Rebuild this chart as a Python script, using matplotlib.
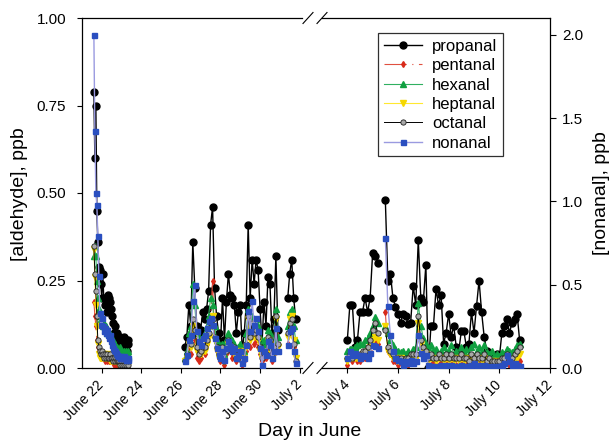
import numpy as np
import matplotlib
matplotlib.use('Agg')
import matplotlib.pyplot as plt
from matplotlib.lines import Line2D

plt.rcParams['font.family'] = ['Liberation Sans', 'DejaVu Sans']

nan = np.nan

# start and sampling step (day in June) of the three measurement periods
seg_start = [21.60, 26.20, 34.00]
seg_step = [0.05, 0.10, 0.10]

### period a : June 21.6 - 23.35 (aldehydes in ppb, nonanal on right axis)
prop_a = [0.79, 0.60, 0.75, 0.45, 0.36, 0.29, 0.28, 0.24, 0.20, 0.27,
          0.20, 0.18, 0.20, 0.16, 0.21, 0.20, 0.19, 0.17, 0.15, 0.13,
          0.10, 0.12, 0.08, 0.10, 0.00, 0.06, 0.09, 0.07, 0.08, 0.06,
          0.09, 0.07, 0.08, 0.05, 0.08, 0.07]
pent_a = [0.19, 0.15, 0.12, 0.08, 0.06, 0.05, 0.04, 0.03, 0.04, 0.03,
          0.03, 0.02, 0.03, 0.02, 0.03, 0.02, 0.02, 0.03, 0.02, 0.02,
          0.01, 0.02, 0.01, 0.02, 0.01, 0.01, 0.02, 0.01, 0.01, 0.00,
          0.01, 0.01, 0.00, 0.01, 0.01, 0.00]
hex_a = [0.32, 0.35, 0.32, 0.25, 0.20, 0.17, 0.15, 0.14, 0.13, 0.12,
         0.13, 0.11, 0.12, 0.10, 0.11, 0.10, 0.09, 0.09, 0.08, 0.08,
         0.07, 0.07, 0.06, 0.06, 0.05, 0.05, 0.06, 0.05, 0.05, 0.04,
         0.05, 0.04, 0.05, 0.04, 0.05, 0.04]
hept_a = [0.34, 0.26, 0.18, 0.12, 0.07, 0.04, 0.03, 0.03, 0.04, 0.03,
          0.04, 0.03, 0.03, 0.04, 0.03, 0.03, 0.02, 0.03, 0.02, 0.03,
          0.02, 0.02, 0.03, 0.02, 0.02, 0.01, 0.02, 0.01, 0.02, 0.01,
          0.01, 0.02, 0.01, 0.01, 0.02, 0.01]
oct_a = [0.35, 0.27, 0.22, 0.15, 0.08, 0.06, 0.05, 0.04, 0.05, 0.04,
         0.03, 0.04, 0.03, 0.04, 0.03, 0.03, 0.04, 0.03, 0.03, 0.02,
         0.03, 0.02, 0.03, 0.02, 0.02, 0.02, 0.01, 0.02, 0.01, 0.02,
         0.01, 0.02, 0.01, 0.02, 0.01, 0.02]
non_a = [2.00, 1.42, 1.05, 0.98, 0.79, 0.55, 0.33, 0.26, 0.30, 0.25,
         0.22, 0.24, 0.21, 0.23, 0.20, 0.18, 0.20, 0.16, 0.14, 0.12,
         0.11, 0.10, 0.09, 0.08, 0.07, 0.07, 0.06, 0.07, 0.06, 0.06,
         0.07, 0.06, 0.05, 0.06, 0.05, 0.06]

### period b : June 26.2 - 31.8
prop_b = [0.06, 0.09, 0.18, 0.12, 0.36, 0.23, 0.12, 0.10, 0.11, 0.16,
          0.14, 0.17, 0.22, 0.41, 0.46, 0.23, 0.15, 0.10, 0.07, 0.20,
          0.08, 0.19, 0.27, 0.21, 0.20, 0.18, 0.10, 0.16, 0.18, 0.05,
          0.10, 0.18, 0.41, 0.20, 0.31, 0.24, 0.31, 0.28, 0.17, 0.07,
          0.19, 0.12, 0.26, 0.24, 0.10, 0.14, 0.32, 0.11, nan, nan,
          nan, nan, 0.20, 0.27, 0.31, 0.20, 0.14]
pent_b = [0.02, 0.03, 0.06, 0.04, 0.10, 0.08, 0.03, 0.02, 0.03, 0.05,
          0.04, 0.07, 0.10, 0.14, 0.25, 0.08, 0.05, 0.03, 0.02, 0.04,
          0.01, 0.04, 0.06, 0.05, 0.03, 0.04, 0.02, 0.03, 0.04, 0.01,
          0.02, 0.05, 0.12, 0.06, 0.10, 0.07, 0.08, 0.06, 0.04, 0.02,
          0.03, 0.03, 0.06, 0.05, 0.02, 0.04, 0.10, 0.05, nan, nan,
          nan, nan, 0.07, 0.10, 0.11, 0.06, 0.02]
hex_b = [0.03, 0.05, 0.10, 0.12, 0.24, 0.18, 0.10, 0.08, 0.07, 0.09,
         0.10, 0.12, 0.15, 0.20, 0.18, 0.12, 0.08, 0.06, 0.05, 0.07,
         0.04, 0.08, 0.10, 0.09, 0.08, 0.07, 0.05, 0.06, 0.07, 0.03,
         0.05, 0.10, 0.17, 0.12, 0.15, 0.13, 0.14, 0.12, 0.09, 0.05,
         0.08, 0.07, 0.11, 0.10, 0.06, 0.08, 0.17, 0.09, nan, nan,
         nan, nan, 0.12, 0.16, 0.17, 0.12, 0.08]
hept_b = [0.02, 0.03, 0.07, 0.06, 0.12, 0.10, 0.05, 0.04, 0.04, 0.05,
          0.05, 0.07, 0.09, 0.12, 0.15, 0.08, 0.05, 0.03, 0.03, 0.05,
          0.02, 0.05, 0.07, 0.06, 0.05, 0.05, 0.03, 0.04, 0.05, 0.02,
          0.03, 0.06, 0.14, 0.08, 0.12, 0.09, 0.10, 0.08, 0.05, 0.03,
          0.04, 0.04, 0.08, 0.07, 0.03, 0.05, 0.14, 0.06, nan, nan,
          nan, nan, 0.09, 0.14, 0.15, 0.08, 0.03]
oct_b = [0.02, 0.04, 0.08, 0.07, 0.14, 0.11, 0.06, 0.04, 0.05, 0.06,
         0.06, 0.08, 0.10, 0.13, 0.14, 0.09, 0.06, 0.04, 0.03, 0.06,
         0.02, 0.05, 0.08, 0.07, 0.05, 0.06, 0.03, 0.04, 0.05, 0.02,
         0.03, 0.07, 0.15, 0.09, 0.13, 0.10, 0.11, 0.09, 0.06, 0.03,
         0.05, 0.04, 0.09, 0.08, 0.04, 0.06, 0.15, 0.07, nan, nan,
         nan, nan, 0.10, 0.13, 0.14, 0.07, 0.02]
non_b = [0.04, 0.08, 0.17, 0.20, 0.40, 0.50, 0.22, 0.16, 0.14, 0.18,
         0.20, 0.24, 0.28, 0.30, 0.26, 0.18, 0.12, 0.08, 0.06, 0.10,
         0.05, 0.12, 0.16, 0.13, 0.10, 0.12, 0.06, 0.08, 0.10, 0.03,
         0.06, 0.14, 0.34, 0.22, 0.40, 0.26, 0.30, 0.22, 0.12, 0.02,
         0.10, 0.08, 0.16, 0.14, 0.06, 0.10, 0.24, 0.10, nan, nan,
         nan, nan, 0.14, 0.22, 0.24, 0.10, 0.03]

### period c : July 4.0 - 10.8
prop_c = [0.08, 0.18, 0.18, 0.06, 0.08, 0.16, 0.16, 0.20, 0.16, 0.20,
          0.33, 0.32, 0.30, nan, nan, 0.48, 0.25, 0.27, 0.20, 0.175,
          0.155, 0.13, 0.155, 0.15, 0.125, 0.13, 0.235, 0.18, 0.365, 0.20,
          0.19, 0.295, 0.0, 0.12, 0.12, 0.225, 0.18, 0.21, 0.07, 0.10,
          0.155, 0.09, 0.12, 0.06, 0.05, 0.105, 0.105, 0.06, 0.07, 0.16,
          0.10, 0.177, 0.25, 0.16, 0.09, 0.05, 0.03, 0.02, 0.03, 0.04,
          0.03, 0.10, 0.12, 0.14, 0.10, 0.13, 0.14, 0.155, 0.08]
pent_c = [0.01, 0.03, 0.02, 0.03, 0.02, 0.02, 0.03, 0.03, 0.04, 0.05,
          0.07, 0.08, 0.07, nan, nan, 0.16, 0.05, 0.04, 0.02, 0.02,
          0.01, 0.02, 0.01, 0.02, 0.01, 0.02, 0.02, 0.03, 0.12, 0.06,
          0.04, 0.03, 0.01, 0.01, 0.02, 0.01, 0.01, 0.02, 0.01, 0.02,
          0.01, 0.02, 0.01, 0.01, 0.01, 0.02, 0.01, 0.01, 0.01, 0.02,
          0.01, 0.02, 0.02, 0.01, 0.02, 0.01, 0.01, 0.00, 0.01, 0.01,
          0.00, 0.01, 0.02, 0.02, 0.01, 0.02, 0.02, 0.03, 0.02]
hex_c = [0.05, 0.055, 0.055, 0.06, 0.065, 0.07, 0.07, 0.08, 0.085, 0.10,
         0.12, 0.145, 0.13, nan, nan, 0.12, 0.10, 0.08, 0.065, 0.055,
         0.05, 0.045, 0.05, 0.04, 0.05, 0.04, 0.055, 0.06, 0.185, 0.12,
         0.085, 0.07, 0.06, 0.065, 0.05, 0.055, 0.04, 0.05, 0.06, 0.045,
         0.05, 0.065, 0.04, 0.05, 0.035, 0.06, 0.045, 0.055, 0.04, 0.06,
         0.07, 0.05, 0.06, 0.05, 0.065, 0.045, 0.04, 0.05, 0.035, 0.04,
         0.035, 0.045, 0.04, 0.055, 0.05, 0.045, 0.055, 0.065, 0.07]
hept_c = [0.02, 0.03, 0.03, 0.03, 0.03, 0.03, 0.04, 0.04, 0.05, 0.06,
          0.08, 0.09, 0.08, nan, nan, 0.12, 0.05, 0.04, 0.03, 0.03,
          0.02, 0.03, 0.02, 0.02, 0.02, 0.03, 0.03, 0.03, 0.13, 0.07,
          0.05, 0.04, 0.02, 0.03, 0.03, 0.02, 0.03, 0.03, 0.02, 0.03,
          0.02, 0.03, 0.02, 0.03, 0.02, 0.03, 0.02, 0.03, 0.02, 0.03,
          0.03, 0.02, 0.03, 0.02, 0.03, 0.02, 0.02, 0.02, 0.01, 0.02,
          0.01, 0.02, 0.02, 0.03, 0.02, 0.02, 0.03, 0.03, 0.04]
oct_c = [0.03, 0.04, 0.03, 0.04, 0.04, 0.04, 0.05, 0.05, 0.06, 0.08,
         0.11, 0.13, 0.10, nan, nan, 0.11, 0.06, 0.05, 0.04, 0.03,
         0.03, 0.03, 0.02, 0.03, 0.03, 0.04, 0.04, 0.04, 0.15, 0.08,
         0.06, 0.05, 0.03, 0.04, 0.03, 0.03, 0.04, 0.03, 0.03, 0.04,
         0.03, 0.04, 0.03, 0.03, 0.03, 0.04, 0.03, 0.03, 0.02, 0.04,
         0.03, 0.04, 0.03, 0.03, 0.04, 0.02, 0.03, 0.02, 0.02, 0.02,
         0.02, 0.03, 0.03, 0.04, 0.03, 0.03, 0.04, 0.05, 0.06]
non_c = [0.06, 0.10, 0.08, 0.09, 0.08, 0.06, 0.08, 0.07, 0.06, 0.09,
         0.14, 0.13, 0.12, nan, nan, 0.78, 0.37, 0.20, 0.10, 0.06,
         0.05, 0.04, 0.02, 0.04, 0.03, 0.05, 0.03, 0.04, 0.20, 0.09,
         0.06, 0.08, 0.02, 0.01, 0.01, 0.00, 0.01, 0.02, 0.01, 0.02,
         0.01, 0.02, 0.01, 0.01, 0.00, 0.02, 0.01, 0.01, 0.00, 0.02,
         0.03, 0.01, 0.02, 0.01, 0.02, 0.01, 0.00, 0.01, 0.00, 0.01,
         0.01, 0.02, 0.03, 0.08, 0.04, 0.02, 0.03, 0.02, 0.01]

names = ['propanal', 'pentanal', 'hexanal', 'heptanal', 'octanal', 'nonanal']
series = [(prop_a, prop_b, prop_c), (pent_a, pent_b, pent_c),
          (hex_a, hex_b, hex_c), (hept_a, hept_b, hept_c),
          (oct_a, oct_b, oct_c), (non_a, non_b, non_c)]

ticks_june = [22, 24, 26, 28, 30, 32]
labels_june = ['June 22', 'June 24', 'June 26', 'June 28', 'June 30', 'July 2']
ticks_july = [34, 36, 38, 40, 42]
labels_july = ['July 4', 'July 6', 'July 8', 'July 10', 'July 12']

styles = {
    'propanal': dict(color='black', lw=1.0, marker='o', ms=5.0, mfc='black', mec='black'),
    'pentanal': dict(color='#e05040', lw=0.8, marker='d', ms=3.0, mfc='#d82a1a', mec='#d82a1a',
                     dashes=(20, 5, 1, 5)),
    'hexanal': dict(color='#30b060', lw=0.8, marker='^', ms=4.0, mfc='#10a040', mec='#10a040'),
    'heptanal': dict(color='#ffe830', lw=0.8, marker='v', ms=4.0, mfc='#f5d800', mec='#f5d800'),
    'octanal': dict(color='black', lw=0.7, marker='o', ms=3.8, mfc='#a8a8a8', mec='#202020', mew=0.6),
    'nonanal': dict(color='#9a9ae0', lw=1.0, marker='s', ms=3.6, mfc='#2a4fc0', mec='#2a4fc0'),
}


def join(parts):
    # glue the periods together with a NaN so the lines break between them
    out = []
    for k, p in enumerate(parts):
        if k:
            out.append(nan)
        out.extend(p)
    return np.array(out, dtype=float)


t = join([seg_start[k] + seg_step[k]*np.arange(len(prop))
          for k, prop in enumerate([prop_a, prop_b, prop_c])])

################################################################################
# Plot : broken time axis, nonanal on its own right axis

W, H = 611, 441
fig = plt.figure(figsize=(W/100, H/100), dpi=100)
ax1 = fig.add_axes([82/W, 73/H, 220/W, 350/H])
ax2 = fig.add_axes([322/W, 73/H, 228/W, 350/H])
ax1r = ax1.twinx()
ax2r = ax2.twinx()

handles = []
for name, parts in zip(names, series):
    y = join(parts)
    for ax, axr in ((ax1, ax1r), (ax2, ax2r)):
        target = axr if name == 'nonanal' else ax
        line, = target.plot(t, y, label=name, **styles[name])
    handles.append(line)

for ax, axr, xlim, ticks, labels in ((ax1, ax1r, (21.0, 32.12), ticks_june, labels_june),
                                     (ax2, ax2r, (33.0, 42.0), ticks_july, labels_july)):
    ax.set_xlim(*xlim)
    ax.set_ylim(0, 1.0)
    axr.set_ylim(0, 2.1)
    ax.set_xticks(ticks)
    ax.set_xticklabels(labels, rotation=45, ha='right', va='center',
                       rotation_mode='anchor', fontsize=10)
    ax.tick_params(axis='x', direction='out', length=3.5, width=0.8, pad=7)
    ax.tick_params(axis='y', direction='out', length=3.5, width=0.8, labelsize=11, pad=8)
    axr.tick_params(axis='y', direction='out', length=4, width=0.8, labelsize=11, pad=4.5)
    for sp in ax.spines.values():
        sp.set_linewidth(0.9)
    for sp in axr.spines.values():
        sp.set_visible(False)

ax1.spines['right'].set_visible(False)
ax1.set_yticks([0, 0.25, 0.5, 0.75, 1.0])
ax1.set_yticklabels(['0.00', '0.25', '0.50', '0.75', '1.00'])
ax1r.set_yticks([])

ax2.spines['left'].set_visible(False)
ax2.spines['right'].set_visible(False)
ax2.set_yticks([])
ax2r.spines['right'].set_visible(True)
ax2r.spines['right'].set_linewidth(0.9)
ax2r.set_yticks([0, 0.5, 1.0, 1.5, 2.0])
ax2r.set_yticklabels(['0.0', '0.5', '1.0', '1.5', '2.0'])

# axis break marks
p1, p2 = ax1.get_position(), ax2.get_position()
dx, dy = 5/W, 5.5/H
for yb in (p1.y0, p1.y1):
    for xc in (p1.x1 + 6/W, p2.x0):
        fig.add_artist(Line2D([xc - dx, xc + dx], [yb - dy, yb + dy],
                              transform=fig.transFigure, color='black', lw=0.8))

leg = ax2r.legend(handles, names, loc='upper left', bbox_to_anchor=(0.246, 0.957),
                  fontsize=12, handlelength=2.3, handletextpad=0.6, borderpad=0.35,
                  labelspacing=0.26, borderaxespad=0, fancybox=False, framealpha=1,
                  edgecolor='#303030')
leg.get_frame().set_linewidth(0.9)

fig.text(20/W, 1 - 194/H, '[aldehyde], ppb', rotation=90, ha='center', va='center', fontsize=14)
fig.text(602/W, 1 - 193/H, '[nonanal], ppb', rotation=90, ha='center', va='center', fontsize=14)
fig.text(310/W, 1 - 431/H, 'Day in June', ha='center', va='center', fontsize=14)

fig.savefig('out.png', dpi=100)
